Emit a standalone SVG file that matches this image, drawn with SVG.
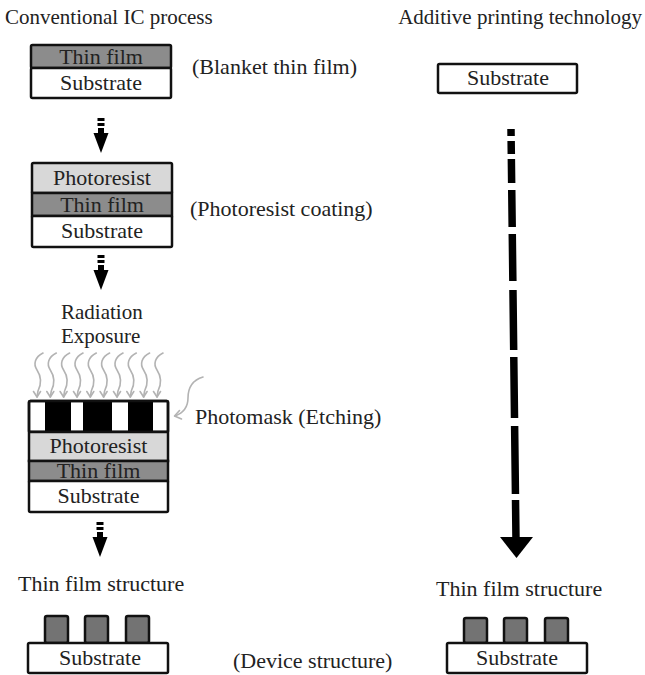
<svg xmlns="http://www.w3.org/2000/svg" xmlns:xlink="http://www.w3.org/1999/xlink" width="645" height="675" viewBox="0 0 645 675">
  <style>
    .t { font-family: "Liberation Serif", "Times New Roman", serif; font-size: 22px; fill: #222; }
    .hd { font-size: 21px; }
    .sm { font-size: 21px; }
    .c { text-anchor: middle; }
    .ly { stroke: #111; stroke-width: 2.5; }
    .film { fill: #8c8c8c; }
    .resist { fill: #d8d8d8; }
    .sub { fill: #fff; }
    .pillar { fill: #737373; stroke: #111; stroke-width: 2.5; }
    .ray { fill: none; stroke: #b3b3b3; stroke-width: 1.6; stroke-linecap: round; stroke-linejoin: round; }
  </style>
  <defs>
    <!-- short step arrow: two dashes, a stub and a solid head -->
    <g id="step-arrow" fill="#000">
      <rect x="-3.5" y="0" width="7" height="3"/>
      <rect x="-3.5" y="5" width="7" height="3"/>
      <rect x="-3" y="10" width="6" height="6"/>
      <polygon points="-7.5,15 7.5,15 0,35"/>
    </g>
    <!-- one wavy radiation ray with open head -->
    <g id="ray">
      <path class="ray" d="M6,0 C-2,4 -4,11 0,17 C4,23 5,30 1,38 L0,44"/>
      <path class="ray" d="M-3.5,38.5 L0,44 L3.5,38.5"/>
    </g>
  </defs>

  <rect width="645" height="675" fill="#fff"/>

  <!-- column headers -->
  <text class="t hd" x="5" y="24">Conventional IC process</text>
  <text class="t hd" x="642" y="24" text-anchor="end">Additive printing technology</text>

  <!-- step 1: blanket thin film -->
  <g id="stack-blanket">
    <rect class="ly film" x="31" y="45" width="140" height="23" rx="1.5"/>
    <rect class="ly sub" x="31" y="68" width="140" height="30" rx="1.5"/>
    <text class="t c" x="101" y="64">Thin film</text>
    <text class="t c" x="101" y="90">Substrate</text>
  </g>
  <text id="label-blanket" class="t" x="192" y="74">(Blanket thin film)</text>

  <!-- step 2: photoresist coating -->
  <g id="stack-coating">
    <rect class="ly resist" x="32" y="163" width="140" height="30" rx="1.5"/>
    <rect class="ly film" x="32" y="193" width="140" height="23"/>
    <rect class="ly sub" x="32" y="216" width="140" height="31" rx="1.5"/>
    <text class="t c" x="102" y="185">Photoresist</text>
    <text class="t c" x="102" y="212">Thin film</text>
    <text class="t c" x="102" y="238">Substrate</text>
  </g>
  <text id="label-coating" class="t" x="190" y="216">(Photoresist coating)</text>

  <!-- radiation exposure -->
  <g id="exposure-label">
    <text class="t sm" x="61" y="319">Radiation</text>
    <text class="t sm" x="61" y="343">Exposure</text>
  </g>
  <g id="rays" transform="translate(0,353)">
    <use xlink:href="#ray" x="37"/>
    <use xlink:href="#ray" x="50.3"/>
    <use xlink:href="#ray" x="63.6"/>
    <use xlink:href="#ray" x="77"/>
    <use xlink:href="#ray" x="90.3"/>
    <use xlink:href="#ray" x="103.6"/>
    <use xlink:href="#ray" x="117"/>
    <use xlink:href="#ray" x="130.3"/>
    <use xlink:href="#ray" x="143.6"/>
    <use xlink:href="#ray" x="157"/>
  </g>

  <!-- step 3: photomask over the stack -->
  <g id="stack-mask">
    <rect class="ly sub" x="29" y="401" width="139" height="31" rx="1.5"/>
    <rect x="45" y="401" width="26" height="31" fill="#000"/>
    <rect x="83" y="401" width="29" height="31" fill="#000"/>
    <rect x="128" y="401" width="25" height="31" fill="#000"/>
    <rect x="29" y="401" width="139" height="31" fill="none" stroke="#111" stroke-width="2.5" rx="1.5"/>
    <rect class="ly resist" x="29" y="432" width="139" height="29"/>
    <rect class="ly film" x="29" y="461" width="139" height="20"/>
    <rect class="ly sub" x="29" y="481" width="139" height="31" rx="1.5"/>
    <text class="t c" x="98.5" y="453">Photoresist</text>
    <text class="t c" x="98.5" y="478">Thin film</text>
    <text class="t c" x="98.5" y="503">Substrate</text>
  </g>
  <text id="label-mask" class="t" x="195" y="424">Photomask (Etching)</text>

  <!-- left result -->
  <text id="title-left" class="t" x="18" y="591">Thin film structure</text>
  <g id="device-left">
    <rect class="pillar" x="45" y="616" width="23" height="27" rx="2"/>
    <rect class="pillar" x="85" y="616" width="23" height="27" rx="2"/>
    <rect class="pillar" x="126" y="616" width="23" height="27" rx="2"/>
    <rect class="ly sub" x="28" y="643" width="140" height="30" rx="1.5"/>
    <text class="t c" x="100" y="665">Substrate</text>
  </g>
  <text id="label-device" class="t" x="233" y="668">(Device structure)</text>

  <!-- right column -->
  <g id="substrate-right">
    <rect class="ly sub" x="438" y="64" width="139" height="29" rx="1.5"/>
    <text class="t c" x="508" y="85">Substrate</text>
  </g>
  <text id="title-right" class="t" x="436" y="596">Thin film structure</text>
  <g id="device-right">
    <rect class="pillar" x="464" y="618" width="23" height="25" rx="2"/>
    <rect class="pillar" x="504" y="618" width="23" height="25" rx="2"/>
    <rect class="pillar" x="545" y="618" width="23" height="25" rx="2"/>
    <rect class="ly sub" x="447" y="643" width="140" height="30" rx="1.5"/>
    <text class="t c" x="517" y="665">Substrate</text>
  </g>

  <!-- connectors -->
  <g id="connectors">
    <use xlink:href="#step-arrow" x="101" y="118"/>
    <use xlink:href="#step-arrow" x="101" y="255"/>
    <use xlink:href="#step-arrow" x="100" y="522"/>
    <!-- curved pointer to the mask -->
    <path class="ray" d="M203,377 C193,380 188,388 188,398 C188,408 183,413 175,416"/>
    <path class="ray" d="M179.5,410.5 L174.5,416 L181.5,419"/>
    <!-- long dashed arrow of the additive route -->
    <line x1="511" y1="129" x2="516" y2="540" stroke="#000" stroke-width="7.5"
          stroke-dasharray="7 5 13 5 24 7 37 7 47 9 60 7 61 8 68 6 40 100"/>
    <polygon points="500,537 533,537 516.5,558" fill="#000"/>
  </g>
</svg>
